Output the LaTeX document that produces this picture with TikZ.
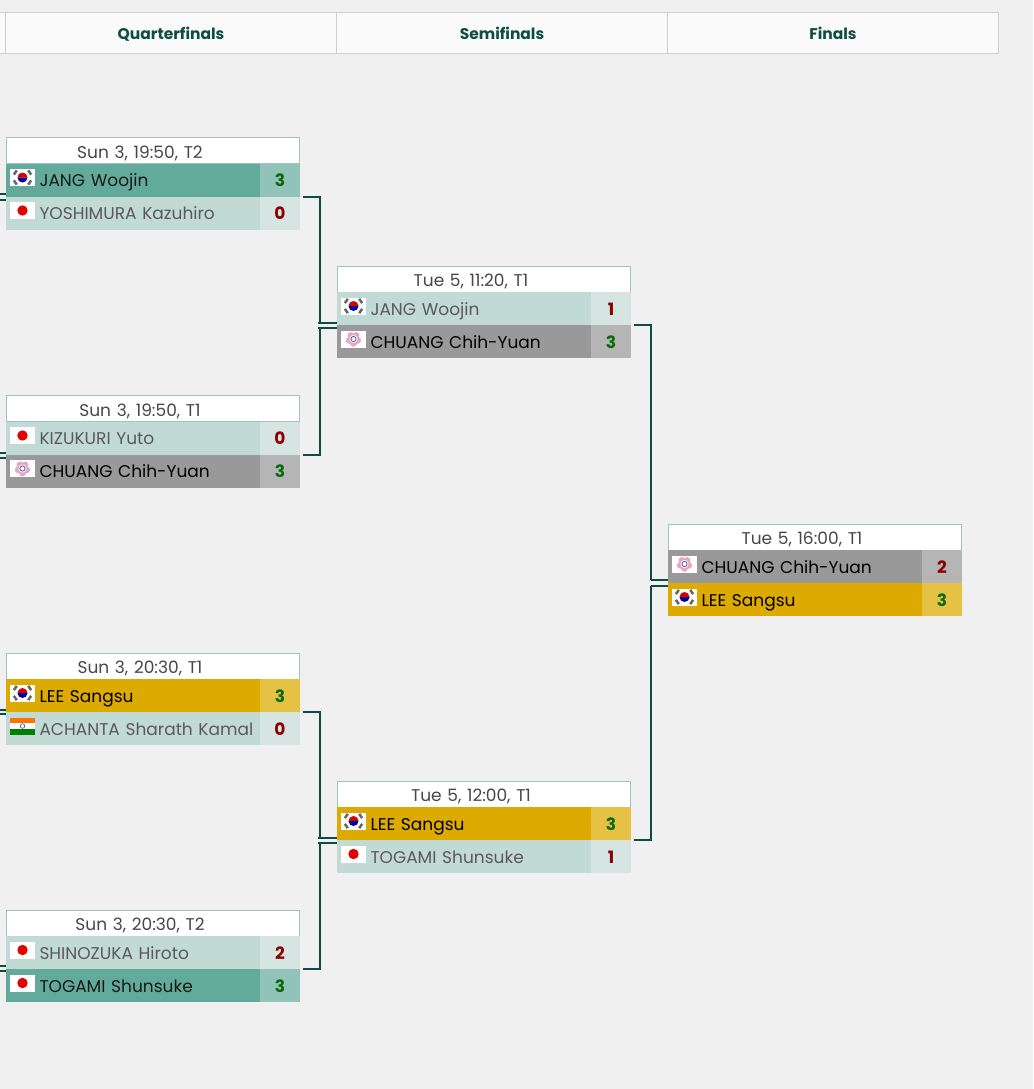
\documentclass[tikz,border=0pt]{standalone}
\usepackage{fontspec}
\setmainfont{Poppins}
\usepackage{xcolor}
\usetikzlibrary{positioning}
\definecolor{bggrey}{HTML}{F0F0F0}
\definecolor{barfill}{HTML}{FAFAFA}
\definecolor{barline}{HTML}{CFCFCF}
\definecolor{deepgreen}{HTML}{0F4D40}
\definecolor{headline}{HTML}{A0C4BC}
\definecolor{tealrow}{HTML}{62AB9B}
\definecolor{tealsc}{HTML}{92C3B8}
\definecolor{paleRow}{HTML}{C2DAD5}
\definecolor{palesc}{HTML}{D6E5E2}
\definecolor{greyrow}{HTML}{999999}
\definecolor{greysc}{HTML}{B5B5B5}
\definecolor{goldrow}{HTML}{DCAA00}
\definecolor{goldsc}{HTML}{E6C244}
\definecolor{wonsc}{HTML}{0A6B0A}
\definecolor{lostsc}{HTML}{8B0000}
\tikzset{
  flagkr/.pic={
    \fill[white] (-12.5,-8.5) rectangle (12.5,8.5);
    \fill[red!85!black] (-5,0) arc[start angle=180,end angle=360,radius=5] -- cycle;
    \fill[blue!60!black] (-5,0) arc[start angle=180,end angle=0,radius=5] -- cycle;
    \foreach \a in {35,145,215,325}
      \fill[black!60,rotate=\a] (7.5,-2.6) rectangle (10,2.6);
  },
  flagjp/.pic={
    \fill[white] (-12.5,-8.5) rectangle (12.5,8.5);
    \fill[red!90!black] (0,0) circle[radius=5.2];
  },
  flagtw/.pic={
    \fill[white] (-12.5,-8.5) rectangle (12.5,8.5);
    \foreach \a in {18,90,162,234,306}
      \fill[purple!35] (\a:4.4) circle[radius=3.4];
    \fill[white] (0,0) circle[radius=4];
    \draw[blue!35!gray,line width=.8pt] (0,0) circle[radius=2.6];
  },
  flagin/.pic={
    \fill[white] (-12.5,-8.5) rectangle (12.5,8.5);
    \fill[orange!90!red] (-12.5,-8.5) rectangle (12.5,-2.8);
    \fill[green!50!black] (-12.5,2.8) rectangle (12.5,8.5);
    \draw[blue!50!gray,line width=.6pt] (0,0) circle[radius=2.3];
  }
}
\begin{document}
\begin{tikzpicture}[
  x=1pt,y=-1pt,
  font=\fontsize{17}{20}\selectfont,
  cell/.style={draw=barline,fill=barfill,minimum width=331pt,minimum height=41pt,inner sep=0pt,outer sep=0pt,text=deepgreen,text height=17pt,text depth=3pt,font=\fontsize{15.5}{18}\selectfont\bfseries},
  head/.style={draw=headline,fill=white,minimum height=26pt,inner sep=0pt,outer sep=0pt,text width=293pt,align=center,text=black!72,text height=18pt,text depth=3pt,execute at end node={\hspace*{25pt}}},
  plr/.style={minimum height=33pt,inner sep=0pt,outer sep=0pt,text width=254pt,align=left,text height=16pt,text depth=3pt,execute at begin node={\hspace*{33.5pt}}},
  plrteal/.style={plr,fill=tealrow,text=black!90},
  plrpale/.style={plr,fill=paleRow,text=black!65},
  plrgrey/.style={plr,fill=greyrow,text=black},
  plrgold/.style={plr,fill=goldrow,text=black},
  sc/.style={minimum width=40pt,minimum height=33pt,inner sep=0pt,outer sep=0pt,text height=16pt,text depth=3pt,font=\fontsize{17}{20}\selectfont\bfseries},
  won/.style={text=wonsc},
  lost/.style={text=lostsc},
  conn/.style={draw=deepgreen,line width=2pt}
]
\useasboundingbox[fill=bggrey] (0,0) rectangle (1033,1089);

% column bar
\node[cell,minimum width=20pt] (hzero) at (-5,32.5) {};
\node[cell] (hqf) at (171,32.5) {Quarterfinals};
\node[cell,right=0pt of hqf] (hsf) {Semifinals};
\node[cell,right=0pt of hsf] (hfi) {Finals};

% quarterfinals
\node[head] (qa) at (152.5,150.5) {Sun 3, 19:50, T2};
\node[plrteal,below right=0pt of qa.south west] (qaone) {JANG Woojin};
\node[plrpale,below=0pt of qaone] (qatwo) {YOSHIMURA Kazuhiro};
\node[sc,won,fill=tealsc,right=0pt of qaone] (qaonesc) {3};
\node[sc,lost,fill=palesc,right=0pt of qatwo] (qatwosc) {0};

\node[head] (qb) at (152.5,408.5) {Sun 3, 19:50, T1};
\node[plrpale,below right=0pt of qb.south west] (qbone) {KIZUKURI Yuto};
\node[plrgrey,below=0pt of qbone] (qbtwo) {CHUANG Chih-Yuan};
\node[sc,lost,fill=palesc,right=0pt of qbone] (qbonesc) {0};
\node[sc,won,fill=greysc,right=0pt of qbtwo] (qbtwosc) {3};

\node[head] (qc) at (152.5,666) {Sun 3, 20:30, T1};
\node[plrgold,below right=0pt of qc.south west] (qcone) {LEE Sangsu};
\node[plrpale,below=0pt of qcone] (qctwo) {ACHANTA Sharath Kamal};
\node[sc,won,fill=goldsc,right=0pt of qcone] (qconesc) {3};
\node[sc,lost,fill=palesc,right=0pt of qctwo] (qctwosc) {0};

\node[head] (qd) at (152.5,923) {Sun 3, 20:30, T2};
\node[plrpale,below right=0pt of qd.south west] (qdone) {SHINOZUKA Hiroto};
\node[plrteal,below=0pt of qdone] (qdtwo) {TOGAMI Shunsuke};
\node[sc,lost,fill=palesc,right=0pt of qdone] (qdonesc) {2};
\node[sc,won,fill=tealsc,right=0pt of qdtwo] (qdtwosc) {3};

% semifinals
\node[head] (sa) at (483.5,279) {Tue 5, 11:20, T1};
\node[plrpale,below right=0pt of sa.south west] (saone) {JANG Woojin};
\node[plrgrey,below=0pt of saone] (satwo) {CHUANG Chih-Yuan};
\node[sc,lost,fill=palesc,right=0pt of saone] (saonesc) {1};
\node[sc,won,fill=greysc,right=0pt of satwo] (satwosc) {3};

\node[head] (sb) at (483.5,794) {Tue 5, 12:00, T1};
\node[plrgold,below right=0pt of sb.south west] (sbone) {LEE Sangsu};
\node[plrpale,below=0pt of sbone] (sbtwo) {TOGAMI Shunsuke};
\node[sc,won,fill=goldsc,right=0pt of sbone] (sbonesc) {3};
\node[sc,lost,fill=palesc,right=0pt of sbtwo] (sbtwosc) {1};

% final
\node[head] (fa) at (814.5,537) {Tue 5, 16:00, T1};
\node[plrgrey,below right=0pt of fa.south west] (faone) {CHUANG Chih-Yuan};
\node[plrgold,below=0pt of faone] (fatwo) {LEE Sangsu};
\node[sc,lost,fill=greysc,right=0pt of faone] (faonesc) {2};
\node[sc,won,fill=goldsc,right=0pt of fatwo] (fatwosc) {3};

% flags
\foreach \who/\flag in {qaone/flagkr,qatwo/flagjp,qbone/flagjp,qbtwo/flagtw,qcone/flagkr,qctwo/flagin,qdone/flagjp,qdtwo/flagjp,saone/flagkr,satwo/flagtw,sbone/flagkr,sbtwo/flagjp,faone/flagtw,fatwo/flagkr}
  \pic at ([xshift=16.5pt,yshift=2.5pt]\who.west) {\flag};

% joins
\coordinate (jaup) at (320,323);
\coordinate (jadn) at (320,328);
\coordinate (jbup) at (320,838);
\coordinate (jbdn) at (320,843);
\coordinate (jcup) at (651,580);
\coordinate (jcdn) at (651,586);
\draw[conn] ([xshift=3pt]qaonesc.south east) -| (jaup);
\draw[conn] ([xshift=3pt]qbtwosc.north east) -| (jadn);
\draw[conn] ([xshift=3pt]qconesc.south east) -| (jbup);
\draw[conn] ([xshift=3pt]qdtwosc.north east) -| (jbdn);
\draw[conn] ([xshift=3pt]saonesc.south east) -| (jcup);
\draw[conn] ([xshift=3pt]sbonesc.south east) -| (jcdn);
\draw[conn] ([xshift=-2pt]jaup) -- (jaup -| saone.west);
\draw[conn] ([xshift=-2pt]jadn) -- (jadn -| saone.west);
\draw[conn] ([xshift=-2pt]jbup) -- (jbup -| sbone.west);
\draw[conn] ([xshift=-2pt]jbdn) -- (jbdn -| sbone.west);
\draw[conn] (jcup) -- (jcup -| faone.west);
\draw[conn] (jcdn) -- (jcdn -| faone.west);

% stubs on the left edge
\foreach \n/\ya/\yb/\who in {a/194/200/qaone,b/453/458/qbone,c/709.5/714/qcone,d/966/971/qdone} {
  \coordinate (st\n up) at (0,\ya);
  \coordinate (st\n dn) at (0,\yb);
  \draw[conn] (st\n up) -- (st\n up -| \who.west);
  \draw[conn] (st\n dn) -- (st\n dn -| \who.west);
}
\end{tikzpicture}
\end{document}
